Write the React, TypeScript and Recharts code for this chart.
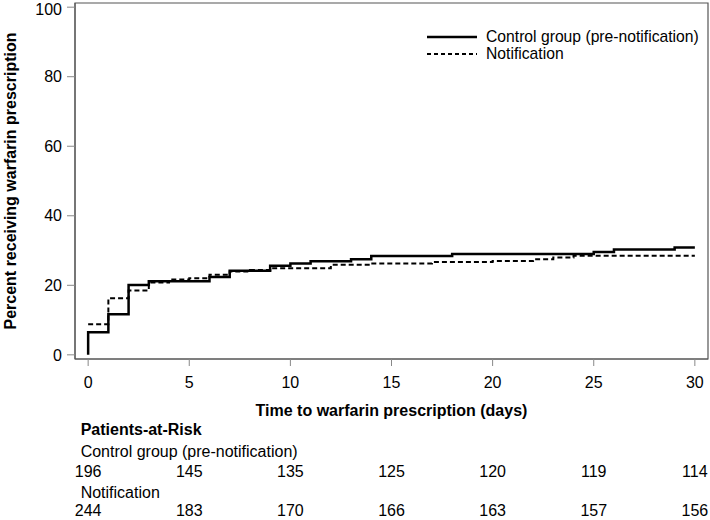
import { LineChart, Line, XAxis, YAxis, ReferenceArea, Legend, Label } from "recharts";

// Kaplan-Meier style cumulative percent (step values)
const controlDays = [0, 0, 1, 2, 3, 6, 7, 9, 10, 11, 13, 14, 18, 25, 26, 29, 30];
const controlPct = [0, 6.5, 11.7, 20.1, 21.2, 22.4, 24.2, 25.6, 26.3, 26.9, 27.5, 28.4, 29.0, 29.6, 30.3, 30.9, 30.9];

const notifDays = [0, 1, 2, 3, 4, 5, 6, 7, 8, 9, 12, 14, 17, 20, 22, 23, 24, 30];
const notifPct = [8.8, 16.3, 18.5, 20.8, 21.7, 22.0, 23.0, 24.0, 24.4, 24.9, 25.9, 26.3, 26.7, 27.0, 27.5, 28.0, 28.5, 28.5];

const xTicks = [0, 5, 10, 15, 20, 25, 30];
const yTicks = [0, 20, 40, 60, 80, 100];

const controlAtRisk = [196, 145, 135, 125, 120, 119, 114];
const notifAtRisk = [244, 183, 170, 166, 163, 157, 156];

const controlData = controlDays.map((d, i) => ({ day: d, pct: controlPct[i] }));
const notifData = notifDays.map((d, i) => ({ day: d, pct: notifPct[i] }));

const FONT = "'Liberation Sans', Arial, sans-serif";
const X_DOMAIN = [-0.65, 30.65];
const Y_DOMAIN = [-1.2, 101.2];

const RiskTick = (props: any) => {
  const { x, y, payload, index } = props;
  return (
    <g fontFamily={FONT} fontSize={16} fill="#000">
      <text x={x} y={y + 19.5} textAnchor="middle">{payload.value}</text>
      {index === 0 && (
        <>
          <text x={x - 7.5} y={y + 67} fontWeight="bold">Patients-at-Risk</text>
          <text x={x - 7.5} y={y + 88.5}>Control group (pre-notification)</text>
          <text x={x - 7.5} y={y + 129.5}>Notification</text>
        </>
      )}
      <text x={x} y={y + 109} textAnchor="middle">{controlAtRisk[index]}</text>
      <text x={x} y={y + 148} textAnchor="middle">{notifAtRisk[index]}</text>
    </g>
  );
};

const XTitle = (props: any) => {
  const vb = props.viewBox;
  return (
    <text x={vb.x + vb.width / 2} y={vb.y + 56.5} textAnchor="middle" fontFamily={FONT} fontSize={16} fontWeight="bold" fill="#000">
      Time to warfarin prescription (days)
    </text>
  );
};

const YTitle = () => (
  <text x={15.5} y={181} transform="rotate(-90, 15.5, 181)" textAnchor="middle" fontFamily={FONT} fontSize={16} fontWeight="bold" fill="#000">
    Percent receiving warfarin prescription
  </text>
);

const LegendBox = () => (
  <div style={{ fontFamily: FONT, fontSize: 15.7, color: "#000", lineHeight: "17px" }}>
    <div style={{ display: "flex", alignItems: "center", height: 17 }}>
      <svg width={50} height={6}><line x1={0} y1={3} x2={50} y2={3} stroke="#000" strokeWidth={2.5} /></svg>
      <span style={{ marginLeft: 9 }}>Control group (pre-notification)</span>
    </div>
    <div style={{ display: "flex", alignItems: "center", height: 17 }}>
      <svg width={50} height={6}><line x1={0} y1={3} x2={50} y2={3} stroke="#000" strokeWidth={2} strokeDasharray="4 3" /></svg>
      <span style={{ marginLeft: 9 }}>Notification</span>
    </div>
  </div>
);

export default function App() {
  return (
    <div style={{ position: "absolute", left: 0, top: 0, background: "#fff" }}>
      <LineChart width={710} height={520} margin={{ top: 3, right: 2, bottom: 0, left: 0 }}>
        <XAxis
          type="number"
          dataKey="day"
          domain={X_DOMAIN}
          allowDataOverflow
          ticks={xTicks}
          height={161}
          tickSize={7}
          tickMargin={2}
          stroke="#555"
          tickLine={{ stroke: "#888" }}
          tick={<RiskTick />}
        >
          <Label content={<XTitle />} />
        </XAxis>
        <YAxis
          type="number"
          dataKey="pct"
          domain={Y_DOMAIN}
          allowDataOverflow
          ticks={yTicks}
          width={75}
          tickSize={8}
          tickMargin={5}
          stroke="#555"
          tickLine={{ stroke: "#888" }}
          tick={{ fill: "#000", fontSize: 16, fontFamily: FONT }}
        >
          <Label content={<YTitle />} />
        </YAxis>
        <ReferenceArea x1={X_DOMAIN[0]} x2={X_DOMAIN[1]} y1={Y_DOMAIN[0]} y2={Y_DOMAIN[1]} fill="none" stroke="#555" strokeWidth={1.2} />
        <Line data={controlData} dataKey="pct" type="stepAfter" stroke="#000" strokeWidth={2.5} dot={false} isAnimationActive={false} />
        <Line data={notifData} dataKey="pct" type="stepAfter" stroke="#000" strokeWidth={2} strokeDasharray="5 3" dot={false} isAnimationActive={false} />
        <Legend content={<LegendBox />} layout="horizontal" verticalAlign="middle" wrapperStyle={{ left: 427, top: 28, width: 280 }} />
      </LineChart>
    </div>
  );
}
